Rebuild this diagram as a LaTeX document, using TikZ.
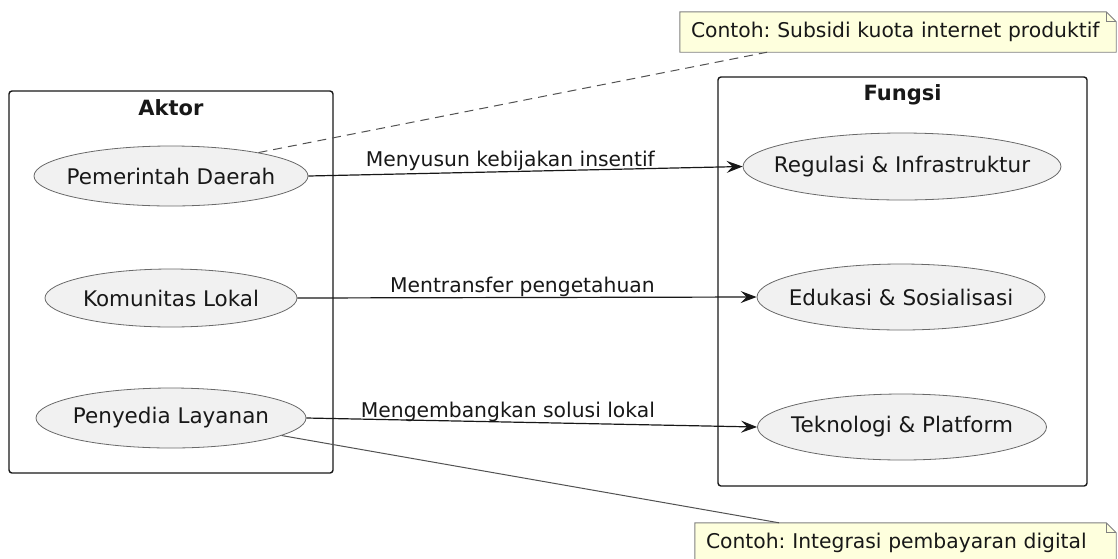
\documentclass[tikz,border=0pt]{standalone}
\usepackage{fontspec}
\setmainfont{DejaVu Sans}
\usetikzlibrary{arrows.meta, positioning, shapes.geometric, calc, backgrounds}
\definecolor{ink}{HTML}{181818}
\definecolor{ucfill}{HTML}{F1F1F1}
\definecolor{notefill}{HTML}{FEFFDD}
\newcommand{\uctext}[1]{\makebox[0pt]{#1}}
\frenchspacing

\begin{document}
\begin{tikzpicture}[x=1pt, y=-1pt, >={Stealth[length=16pt, width=12pt, inset=6pt]},
    usecase/.style={ellipse, draw=ink!65, line width=0.8pt, fill=ucfill, inner sep=0pt, minimum height=60pt, text=ink, font=\fontsize{21.5}{24}\selectfont},
    pkg/.style={draw=ink, line width=1.4pt, rounded corners=3pt, inner sep=0pt},
    pkgtitle/.style={font=\fontsize{21}{24}\selectfont\bfseries, text=ink},
    flow/.style={->, draw=ink, line width=1.2pt},
    flowlabel/.style={font=\fontsize{20.3}{23}\selectfont, text=ink, inner sep=0pt, above},
    note/.style={align=left, minimum height=40pt, inner xsep=11pt, inner ysep=0pt, font=\fontsize{20.3}{23}\selectfont, text=ink},
    noteshape/.style={draw=ink!55, fill=notefill, line width=0.9pt},
    notelink/.style={draw=ink!75, line width=1pt}]
    \useasboundingbox (0,0) rectangle (1118,558);
    % packages
    \node[pkg, minimum width=324pt, minimum height=382pt] (aktor) at (171,282) {};
    \node[pkgtitle] at ([yshift=-17pt]aktor.north) {Aktor};
    \node[pkg, minimum width=369pt, minimum height=409pt] (fungsi) at (902.5,281.5) {};
    \node[pkgtitle] at ([yshift=-18pt]fungsi.north) {Fungsi};
    % actors
    \node[usecase, minimum width=274pt] (pemda) at (171,176) {\uctext{Pemerintah Daerah}};
    \node[usecase, minimum width=252pt, minimum height=58pt] (komunitas) at (171,298) {\uctext{Komunitas Lokal}};
    \node[usecase, minimum width=270pt] (penyedia) at (171,418) {\uctext{Penyedia Layanan}};
    % functions
    \node[usecase, minimum width=318pt, minimum height=67pt] (regulasi) at (902,166.5) {\uctext{Regulasi \& Infrastruktur}};
    \node[usecase, minimum width=288pt, minimum height=66pt] (edukasi) at (901,297) {\uctext{Edukasi \& Sosialisasi}};
    \node[usecase, minimum width=289pt, minimum height=66pt] (teknologi) at (902,427) {\uctext{Teknologi \& Platform}};
    % flows
    \draw[flow] (pemda.east) -- (regulasi.west) node[flowlabel, pos=0.465] {Menyusun kebijakan insentif};
    \draw[flow] (komunitas.east) -- (edukasi.west) node[flowlabel, pos=0.49] {Mentransfer pengetahuan};
    \draw[flow] (penyedia.east) -- (teknologi.west) node[flowlabel, pos=0.447] {Mengembangkan solusi lokal};
    % notes
    \node[note, text width=414pt] (notea) at (898,32) {Contoh: Subsidi kuota internet produktif};
    \node[note, text width=399pt] (noteb) at (905.5,543) {Contoh: Integrasi pembayaran digital};
    \begin{scope}[on background layer]
        \foreach \n in {notea, noteb} {
            \draw[noteshape] (\n.south west) -- (\n.north west) -- ([xshift=-10pt]\n.north east)
                -- ([yshift=-10pt]\n.north east) -- (\n.south east) -- cycle;
            \draw[noteshape, fill=none] ([xshift=-10pt]\n.north east) |- ([yshift=-10pt]\n.north east);
        }
    \end{scope}
    \draw[notelink, dash pattern=on 9pt off 6pt] (pemda.15) -- ($(notea.south west)!0.2!(notea.south east)$);
    \draw[notelink] (penyedia.-9) -- ($(noteb.north west)!0.2!(noteb.north east)$);
\end{tikzpicture}
\end{document}
